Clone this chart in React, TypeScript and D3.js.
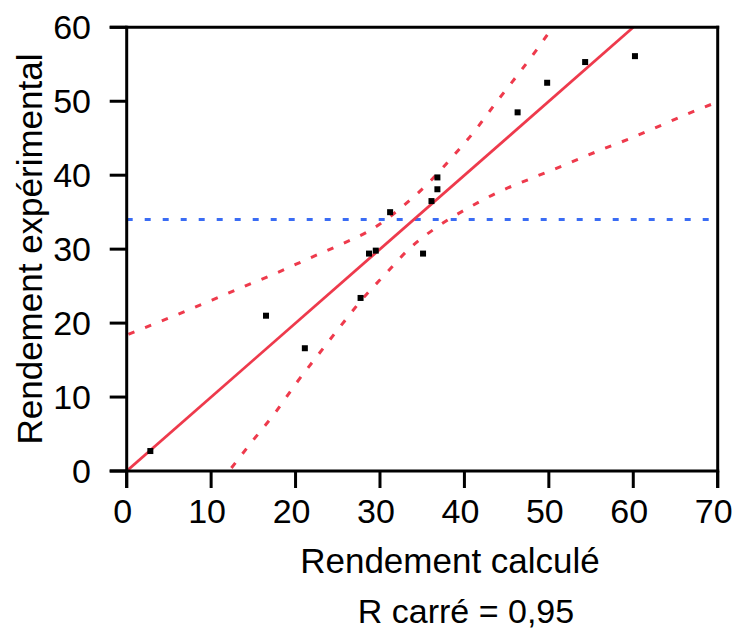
import React from "react";
import * as d3 from "d3";

// Observations: predicted (calculé) vs measured (expérimental) yield
const predicted = [2.8, 16.5, 21.1, 27.7, 28.7, 29.5, 31.2, 35.1, 36.1, 36.8, 36.8, 46.3, 49.8, 54.3, 60.2];
const actual = [2.7, 21.0, 16.6, 23.4, 29.4, 29.8, 35.0, 29.4, 36.5, 38.1, 39.7, 48.5, 52.5, 55.3, 56.1];

const xTicks = [0, 10, 20, 30, 40, 50, 60, 70];
const yTicks = [0, 10, 20, 30, 40, 50, 60];

// Mean of the response (horizontal reference line)
const meanActual = 34.0;

// Fitted line (actual = predicted)
const fitX = [0, 60];
const fitY = [0, 60];

// Confidence curves around the fit
const upperX = [0.2, 6.1, 10.1, 14.0, 17.8, 21.7, 25.3, 29.2, 32.6, 35.7, 38.6, 41.3, 43.8, 46.4, 48.9, 50.2];
const upperY = [18.5, 21.2, 23.1, 25.0, 26.8, 28.8, 30.6, 32.8, 35.7, 38.9, 42.5, 46.1, 49.9, 53.7, 57.5, 59.6];
const lowerX = [12.4, 15.0, 17.6, 20.1, 22.6, 25.2, 27.8, 30.7, 33.6, 36.9, 40.5, 44.0, 48.0, 51.9, 55.9, 59.7, 63.6, 67.5, 70.0];
const lowerY = [0.4, 4.2, 7.9, 11.9, 15.6, 19.4, 23.1, 26.7, 30.2, 33.1, 35.6, 37.7, 39.6, 41.4, 43.3, 45.0, 46.9, 48.8, 49.9];

const xTitle = "Rendement calculé";
const yTitle = "Rendement expérimental";
const rSquaredLabel = "R carré = 0,95";

const W = 733;
const H = 631;
const left = 126.7;
const right = 717.7;
const top = 27.3;
const bottom = 471;
const tickLen = 17;

const RED = "#ee3a4c";
const BLUE = "#3a6cf4";
const FONT = "'Liberation Sans', Arial, Helvetica, sans-serif";

export default function App() {
  const x = d3.scaleLinear().domain([0, 70]).range([left, right]);
  const y = d3.scaleLinear().domain([0, 60]).range([bottom, top]);

  const line = d3
    .line<[number, number]>()
    .x((d) => x(d[0]))
    .y((d) => y(d[1]));
  const curve = d3
    .line<[number, number]>()
    .x((d) => x(d[0]))
    .y((d) => y(d[1]))
    .curve(d3.curveMonotoneX);

  const fitPts = fitX.map((v, i) => [v, fitY[i]] as [number, number]);
  const upperPts = upperX.map((v, i) => [v, upperY[i]] as [number, number]);
  const lowerPts = lowerX.map((v, i) => [v, lowerY[i]] as [number, number]);

  const axisW = 3;
  const sq = 6;

  return (
    <svg
      width={W}
      height={H}
      style={{ position: "absolute", left: 0, top: 0, background: "#fff" }}
      fontFamily={FONT}
    >
      <defs>
        <clipPath id="plot-clip">
          <rect x={left} y={top} width={right - left} height={bottom - top} />
        </clipPath>
      </defs>

      <g clipPath="url(#plot-clip)">
        {/* mean of response */}
        <line
          x1={x(0)}
          x2={x(70)}
          y1={y(meanActual)}
          y2={y(meanActual)}
          stroke={BLUE}
          strokeWidth={3}
          strokeDasharray="6 12"
        />
        {/* confidence curves */}
        <path d={curve(upperPts) ?? ""} fill="none" stroke={RED} strokeWidth={3} strokeDasharray="6.5 11.5" />
        <path d={curve(lowerPts) ?? ""} fill="none" stroke={RED} strokeWidth={3} strokeDasharray="6.5 11.5" />
        {/* fit line */}
        <path d={line(fitPts) ?? ""} fill="none" stroke={RED} strokeWidth={2.8} />
        {/* observations */}
        {predicted.map((p, i) => (
          <rect
            key={i}
            x={x(p) - sq / 2}
            y={y(actual[i]) - sq / 2}
            width={sq}
            height={sq}
            fill="#000"
          />
        ))}
      </g>

      {/* frame and axes */}
      <g stroke="#000" strokeWidth={axisW} fill="none">
        <line x1={left - tickLen} x2={right + axisW / 2} y1={top} y2={top} />
        <line x1={left - tickLen} x2={right + axisW / 2} y1={bottom} y2={bottom} />
        <line x1={left} x2={left} y1={top - axisW / 2} y2={bottom + tickLen} />
        <line x1={right} x2={right} y1={top - axisW / 2} y2={bottom + tickLen} />
        {yTicks.map((t) => (
          <line key={"yt" + t} x1={left - tickLen} x2={left} y1={y(t)} y2={y(t)} />
        ))}
        {xTicks.map((t) => (
          <line key={"xt" + t} x1={x(t)} x2={x(t)} y1={bottom} y2={bottom + tickLen} />
        ))}
      </g>

      {/* tick labels */}
      <g fontSize={34} fill="#000">
        {yTicks.map((t) => (
          <text key={"yl" + t} x={91} y={y(t) + 11.5} textAnchor="end">
            {t}
          </text>
        ))}
        {xTicks.map((t) => (
          <text key={"xl" + t} x={x(t) - 4} y={523} textAnchor="middle">
            {t}
          </text>
        ))}
      </g>

      {/* titles */}
      <text x={450} y={573} fontSize={35} textAnchor="middle" fill="#000">
        {xTitle}
      </text>
      <text x={466} y={623} fontSize={34} textAnchor="middle" fill="#000">
        {rSquaredLabel}
      </text>
      <text
        transform={`translate(42, 249) rotate(-90)`}
        fontSize={35}
        textAnchor="middle"
        fill="#000"
      >
        {yTitle}
      </text>
    </svg>
  );
}
